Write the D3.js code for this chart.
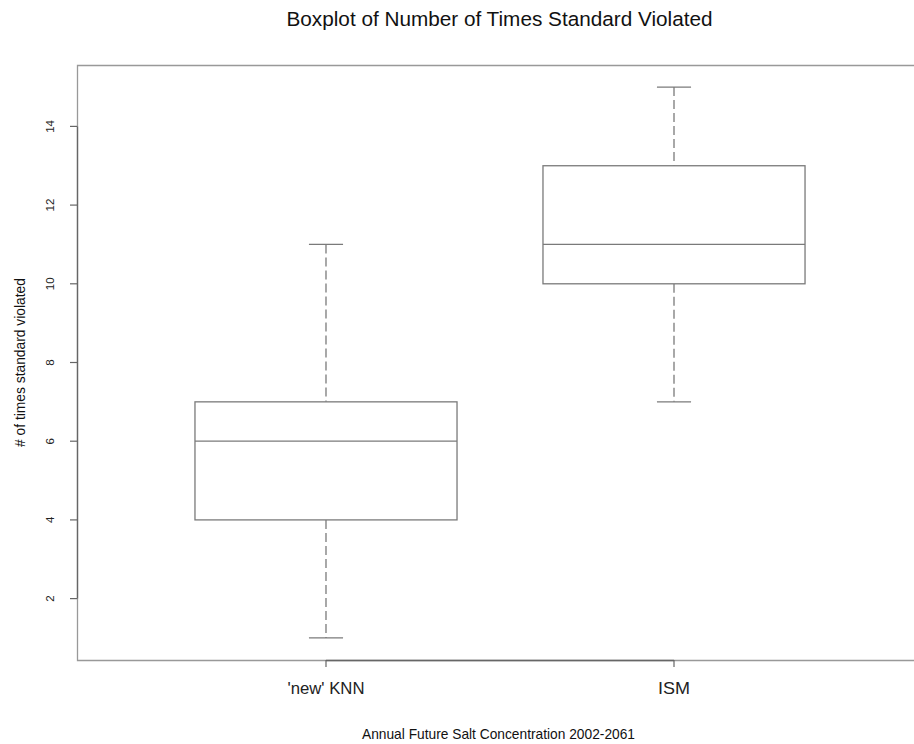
<!DOCTYPE html>
<html><head><meta charset="utf-8">
<script src="https://cdn.jsdelivr.net/npm/d3@7"></script>
<style>html,body{margin:0;background:#fff;overflow:hidden}svg{display:block;font-family:"Liberation Sans",Arial,sans-serif}</style>
</head><body><svg id="c" width="914" height="744"></svg>
<script>
const categories = ["'new' KNN", "ISM"];
const mins = [1, 7];
const q1s = [4, 10];
const medians = [6, 11];
const q3s = [7, 13];
const maxs = [11, 15];
const yTicks = [2, 4, 6, 8, 10, 12, 14];

const svg = d3.select("#c");
const L = 77, R = 923, T = 65, B = 660;
const x = d3.scaleLinear().domain([0.2845, 2.7155]).range([L, R]);
const y = d3.scaleLinear().domain([0.44, 15.56]).range([B, T]);
const col = "#7a7a7a";
const boxW = 0.753, capW = 0.098;

// plot frame (right side falls outside the window)
svg.append("path")
  .attr("d", `M${R + 5},${T + 0.5} H${L + 0.5} V${B + 0.5} H${R + 5}`)
  .attr("fill", "none").attr("stroke", "#999").attr("stroke-width", 1.3);

categories.forEach((c, i) => {
  const cx = x(i + 1);
  const g = svg.append("g").attr("stroke", col).attr("fill", "none").attr("stroke-width", 1.3);
  g.append("line").attr("x1", cx).attr("x2", cx).attr("y1", y(maxs[i])).attr("y2", y(q3s[i])).attr("stroke-dasharray", "9,4");
  g.append("line").attr("x1", cx).attr("x2", cx).attr("y1", y(q1s[i])).attr("y2", y(mins[i])).attr("stroke-dasharray", "9,4");
  g.append("line").attr("x1", x(i + 1 - capW / 2)).attr("x2", x(i + 1 + capW / 2)).attr("y1", y(maxs[i])).attr("y2", y(maxs[i]));
  g.append("line").attr("x1", x(i + 1 - capW / 2)).attr("x2", x(i + 1 + capW / 2)).attr("y1", y(mins[i])).attr("y2", y(mins[i]));
  g.append("rect").attr("x", x(i + 1 - boxW / 2)).attr("y", y(q3s[i])).attr("width", x(i + 1 + boxW / 2) - x(i + 1 - boxW / 2))
    .attr("height", y(q1s[i]) - y(q3s[i])).attr("fill", "#fff");
  g.append("line").attr("x1", x(i + 1 - boxW / 2)).attr("x2", x(i + 1 + boxW / 2)).attr("y1", y(medians[i])).attr("y2", y(medians[i]));
});

// y axis
const ya = svg.append("g").attr("transform", `translate(${L},0)`);
ya.append("line").attr("x1", 0.5).attr("x2", 0.5).attr("y1", y(2)).attr("y2", y(14)).attr("stroke", "#666").attr("stroke-width", 1.3);
yTicks.forEach(t => {
  ya.append("line").attr("x1", -7).attr("x2", 0).attr("y1", y(t)).attr("y2", y(t)).attr("stroke", "#666").attr("stroke-width", 1.2);
  ya.append("text").attr("transform", `translate(${54 - L},${y(t)}) rotate(-90)`).attr("text-anchor", "middle")
    .attr("font-size", 11.5).attr("fill", "#222").text(t);
});

// x axis
const xa = svg.append("g");
xa.append("line").attr("x1", x(1)).attr("x2", x(2)).attr("y1", B + 0.5).attr("y2", B + 0.5).attr("stroke", "#666").attr("stroke-width", 1.3);
const catW = [77, 32];
categories.forEach((c, i) => {
  xa.append("line").attr("x1", x(i + 1)).attr("x2", x(i + 1)).attr("y1", B).attr("y2", B + 7).attr("stroke", "#666").attr("stroke-width", 1.2);
  xa.append("text").attr("x", x(i + 1)).attr("y", 694).attr("text-anchor", "middle").attr("font-size", 17).attr("fill", "#222")
    .attr("textLength", catW[i]).attr("lengthAdjust", "spacingAndGlyphs").text(c);
});

// titles
svg.append("text").attr("x", 499.5).attr("y", 26).attr("text-anchor", "middle").attr("font-size", 20.5).attr("fill", "#111")
  .attr("textLength", 426).attr("lengthAdjust", "spacingAndGlyphs")
  .text("Boxplot of Number of Times Standard Violated");
svg.append("text").attr("x", 498.5).attr("y", 739).attr("text-anchor", "middle").attr("font-size", 14.5).attr("fill", "#111")
  .attr("textLength", 273).attr("lengthAdjust", "spacingAndGlyphs")
  .text("Annual Future Salt Concentration 2002-2061");
svg.append("text").attr("transform", `translate(25,${(T + B) / 2}) rotate(-90)`).attr("text-anchor", "middle").attr("font-size", 14).attr("fill", "#111")
  .attr("textLength", 169).attr("lengthAdjust", "spacingAndGlyphs")
  .text("# of times standard violated");
</script></body></html>
